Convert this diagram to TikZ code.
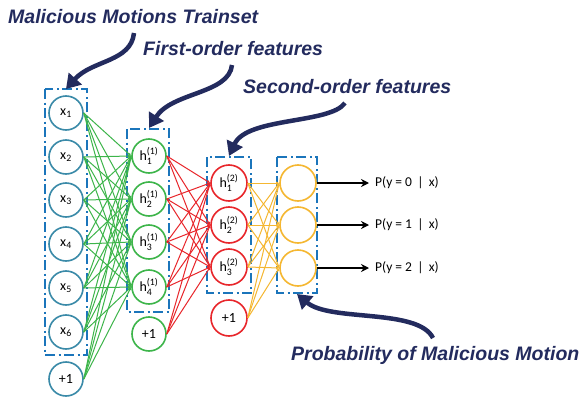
\documentclass[tikz,border=0pt]{standalone}
\usepackage{fontspec}
\usepackage{amsmath}
\setmainfont{Carlito}
\newfontfamily\titlefont{Liberation Sans}
\usetikzlibrary{arrows.meta}
\definecolor{navy}{HTML}{232B5E}
\definecolor{inblue}{HTML}{3A8AA8}
\definecolor{hgreen}{HTML}{3DB54A}
\definecolor{hred}{HTML}{E8262B}
\definecolor{oyel}{HTML}{F5B731}
\definecolor{boxblue}{HTML}{1B75BB}
\newcommand{\hlab}[2]{h$^{\text{(#1)}}_{\text{#2}}$}
\begin{document}
\begin{tikzpicture}[x=1pt,y=-1pt,
  neuron/.style={circle,draw,line width=1.6pt,minimum size=34pt,inner sep=0pt,fill=white,font=\fontsize{14}{14}\selectfont},
  inn/.style={neuron,draw=inblue},
  hone/.style={neuron,draw=hgreen},
  htwo/.style={neuron,draw=hred,minimum size=36pt},
  outn/.style={neuron,draw=oyel,minimum size=36pt},
  layerbox/.style={draw=boxblue,line width=2.4pt,dash pattern=on 10pt off 3.5pt on 2pt off 3.5pt},
  title/.style={font=\titlefont\bfseries\itshape\fontsize{19.5}{22}\selectfont,text=navy,inner sep=0pt},
  callout/.style={draw=navy,line width=4.5pt,-{Triangle[length=14pt,width=17pt]}},
  wg/.style={draw=hgreen,line width=1pt,-{Latex[length=3pt,width=3pt]}},
  wr/.style={draw=hred,line width=1pt,-{Latex[length=3pt,width=3pt]}},
  wy/.style={draw=oyel,line width=1pt,-{Latex[length=3pt,width=3pt]}},
  outarrow/.style={draw=black,line width=1.6pt,-{Stealth[length=8pt,width=8pt]},shorten >=5pt},
  prob/.style={font=\fontsize{13.5}{14}\selectfont,anchor=west,inner sep=1pt}
]
\useasboundingbox[fill=white] (0,0) rectangle (579,399);

% layer boxes
\draw[layerbox] (45,89) rectangle (87,355);
\draw[layerbox] (127,129) rectangle (169,312);
\draw[layerbox] (207,157) rectangle (251,293);
\draw[layerbox] (277,157) rectangle (317,293);

% input layer
\node[inn] (x1) at (66,113) {x\textsubscript{1}};
\node[inn] (x2) at (66,157) {x\textsubscript{2}};
\node[inn] (x3) at (66,200) {x\textsubscript{3}};
\node[inn] (x4) at (66,244) {x\textsubscript{4}};
\node[inn] (x5) at (66,288) {x\textsubscript{5}};
\node[inn] (x6) at (66,332) {x\textsubscript{6}};
\node[inn] (xb) at (66,379) {+1};

% first hidden layer
\node[hone] (a1) at (149,156) {\hlab{1}{1}};
\node[hone] (a2) at (149,199) {\hlab{1}{2}};
\node[hone] (a3) at (149,242) {\hlab{1}{3}};
\node[hone] (a4) at (149,287) {\hlab{1}{4}};
\node[hone] (ab) at (149,334) {+1};

% second hidden layer
\node[htwo] (b1) at (229,183) {\hlab{2}{1}};
\node[htwo] (b2) at (229,225) {\hlab{2}{2}};
\node[htwo] (b3) at (229,267) {\hlab{2}{3}};
\node[htwo] (bb) at (229,318) {+1};

% output layer
\node[outn] (o1) at (298,183) {};
\node[outn] (o2) at (298,225) {};
\node[outn] (o3) at (298,268) {};

% connections
\foreach \s in {x1,x2,x3,x4,x5,x6,xb}
  \foreach \t in {a1,a2,a3,a4}
    \draw[wg] (\s.east) -- (\t.west);
\foreach \s in {a1,a2,a3,a4,ab}
  \foreach \t in {b1,b2,b3}
    \draw[wr] (\s.east) -- (\t.west);
\foreach \s in {b1,b2,b3,bb}
  \foreach \t in {o1,o2,o3}
    \draw[wy] (\s.east) -- (\t.west);

% outputs
\node[prob] (p0) at (374,183) {P(y = 0 \,|\, x)};
\node[prob] (p1) at (374,225) {P(y = 1 \,|\, x)};
\node[prob] (p2) at (374,268) {P(y = 2 \,|\, x)};
\draw[outarrow] (o1.east) -- (o1.east -| p0.west);
\draw[outarrow] (o2.east) -- (o2.east -| p1.west);
\draw[outarrow] (o3.east) -- (o3.east -| p2.west);

% titles
\node[title,anchor=west] (t1) at (8,17) {Malicious Motions Trainset};
\node[title,anchor=west] (t2) at (143,49) {First-order features};
\node[title,anchor=west] (t3) at (243,87) {Second-order features};
\node[title,anchor=west] (t4) at (291,355) {Probability of Malicious Motion};

% callout arrows
\coordinate (c1s) at (134,33);
\coordinate (c1e) at (66,89);
\coordinate (c2s) at (232,65);
\coordinate (c2e) at (149,128);
\coordinate (c3s) at (345,103);
\coordinate (c3e) at (229,156);
\coordinate (c4s) at (433,338);
\coordinate (c4e) at (297,294);
\draw[callout] (c1s) .. controls (131,62) and (92,60) .. (c1e);
\draw[callout] (c2s) .. controls (229,94) and (172,92) .. (c2e);
\draw[callout] (c3s) .. controls (330,124) and (247,117) .. (c3e);
\draw[callout] (c4s) .. controls (418,308) and (330,322) .. (c4e);
\end{tikzpicture}
\end{document}
